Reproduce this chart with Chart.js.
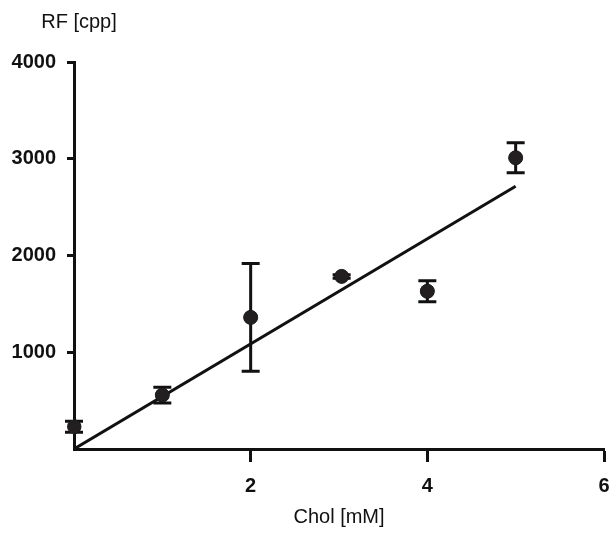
<!DOCTYPE html>
<html>
<head>
<meta charset="utf-8">
<script src="https://cdn.jsdelivr.net/npm/chart.js@4/dist/chart.umd.min.js"></script>
<style>
  html, body { margin: 0; padding: 0; background: #fff; }
  #wrap { width: 613px; height: 533px; }
</style>
</head>
<body>
<div id="wrap"><canvas id="chart"></canvas></div>
<script>
// measured points (mean +/- error)
const cholConc = [0, 1, 2, 3.03, 4, 5];
const rfMean = [230, 557, 1360, 1784, 1630, 3010];
const rfErr = [58, 82, 557, 18, 108, 155];

// linear fit
const fitX = [0, 5];
const fitY = [0, 2715];

const xTicks = [2, 4, 6];
const yTicks = [1000, 2000, 3000, 4000];

const ink = '#111';
const dotColor = '#231f20';
const fontFam = '"Liberation Sans", Arial, sans-serif';

const errorBars = {
  id: 'errorBars',
  afterDatasetsDraw(chart) {
    const ctx = chart.ctx;
    const xs = chart.scales.x, ys = chart.scales.y;
    ctx.save();
    ctx.strokeStyle = ink;
    ctx.lineWidth = 3;
    for (let i = 0; i < cholConc.length; i++) {
      const px = xs.getPixelForValue(cholConc[i]);
      const top = ys.getPixelForValue(rfMean[i] + rfErr[i]);
      const bot = ys.getPixelForValue(rfMean[i] - rfErr[i]);
      ctx.beginPath();
      ctx.moveTo(px, top); ctx.lineTo(px, bot);
      ctx.moveTo(px - 9, top); ctx.lineTo(px + 9, top);
      ctx.moveTo(px - 9, bot); ctx.lineTo(px + 9, bot);
      ctx.stroke();
    }
    // redraw dots on top
    ctx.fillStyle = dotColor;
    for (let i = 0; i < cholConc.length; i++) {
      ctx.beginPath();
      ctx.arc(xs.getPixelForValue(cholConc[i]), ys.getPixelForValue(rfMean[i]), 7, 0, Math.PI * 2);
      ctx.fill();
    }
    ctx.restore();
  }
};

const yLabel = {
  id: 'yLabel',
  afterDraw(chart) {
    const ctx = chart.ctx;
    ctx.save();
    ctx.fillStyle = ink;
    ctx.font = '20px ' + fontFam;
    ctx.textAlign = 'center';
    ctx.textBaseline = 'middle';
    ctx.fillText('RF [cpp]', 79, 22);
    ctx.restore();
  }
};

new Chart(document.getElementById('chart'), {
  type: 'scatter',
  data: {
    datasets: [
      {
        label: 'fit',
        type: 'line',
        data: fitX.map((x, i) => ({ x: x, y: fitY[i] })),
        borderColor: ink,
        borderWidth: 3,
        pointRadius: 0,
        fill: false
      },
      {
        label: 'RF',
        data: cholConc.map((x, i) => ({ x: x, y: rfMean[i] })),
        backgroundColor: dotColor,
        borderColor: dotColor,
        pointRadius: 7
      }
    ]
  },
  options: {
    responsive: true,
    maintainAspectRatio: false,
    animation: false,
    layout: { padding: { left: 0, right: 9, top: 62, bottom: 0 } },
    plugins: {
      legend: { display: false },
      tooltip: { enabled: false }
    },
    scales: {
      x: {
        type: 'linear',
        min: 0,
        max: 6,
        afterBuildTicks: (s) => { s.ticks = xTicks.map(v => ({ value: v })); },
        afterFit: (s) => { s.height = 84; s.paddingLeft = 0; s.paddingRight = 0; },
        grid: { drawOnChartArea: false, tickLength: 13, tickWidth: 3, tickColor: ink },
        border: { color: ink, width: 3 },
        ticks: { color: ink, padding: 12, callback: (v) => String(v), font: { family: fontFam, size: 20, weight: 'bold' } },
        title: { display: true, text: 'Chol [mM]', color: ink, padding: { top: 8 }, font: { family: fontFam, size: 20 } }
      },
      y: {
        type: 'linear',
        min: 0,
        max: 4000,
        afterBuildTicks: (s) => { s.ticks = yTicks.map(v => ({ value: v })); },
        afterFit: (s) => { s.width = 74; },
        grid: { drawOnChartArea: false, tickLength: 7, tickWidth: 3, tickColor: ink },
        border: { color: ink, width: 3 },
        ticks: { color: ink, padding: 11, callback: (v) => String(v), font: { family: fontFam, size: 20, weight: 'bold' } }
      }
    }
  },
  plugins: [errorBars, yLabel]
});
</script>
</body>
</html>
